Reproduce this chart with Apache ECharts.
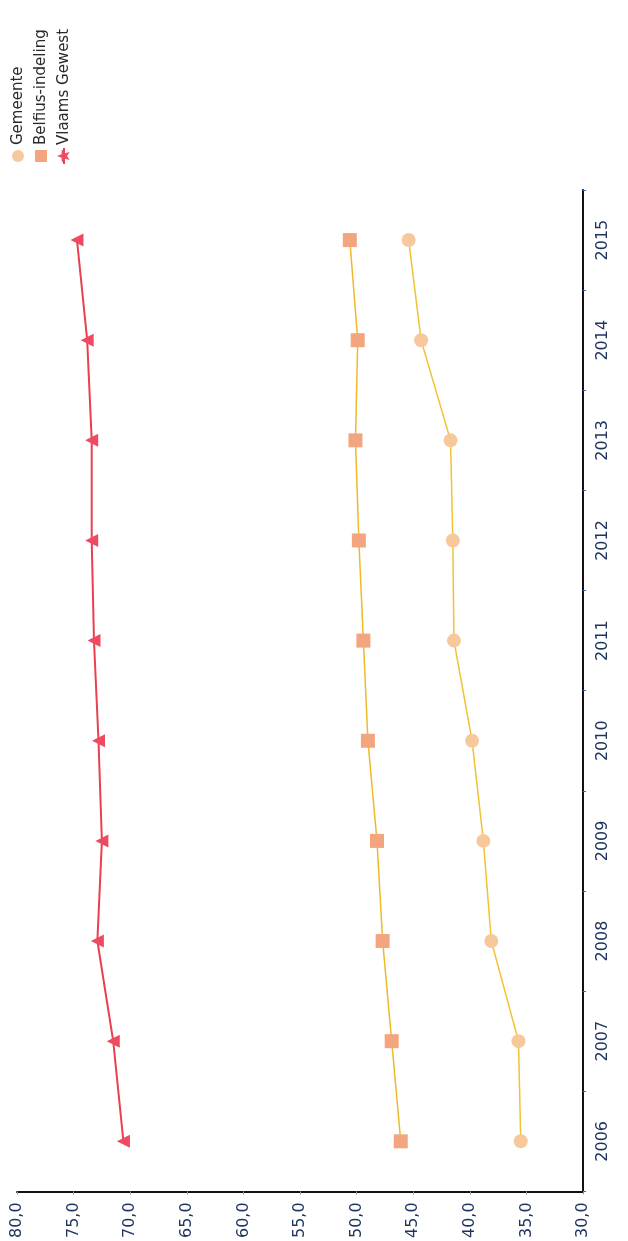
<!DOCTYPE html>
<html>
<head>
<meta charset="utf-8">
<title>Gemeente - Belfius-indeling - Vlaams Gewest</title>
<script src="https://cdn.jsdelivr.net/npm/echarts@6/dist/echarts.min.js"></script>
<style>
  html, body { margin: 0; padding: 0; background: #fff; }
  #chart { width: 628px; height: 1241px; }
</style>
</head>
<body>
<div id="chart"></div>
<script>
// categorieen (jaren), van onder naar boven
var years = ['2006', '2007', '2008', '2009', '2010', '2011', '2012', '2013', '2014', '2015']
// waarden per reeks
var gemeente = [35.5, 35.7, 38.1, 38.8, 39.8, 41.4, 41.5, 41.7, 44.3, 45.4]
var belfius = [46.1, 46.9, 47.7, 48.2, 49.0, 49.4, 49.8, 50.1, 49.9, 50.6]
var vlaams = [70.6, 71.5, 72.9, 72.5, 72.8, 73.2, 73.4, 73.4, 73.8, 74.7]
var seriesNames = ['Gemeente', 'Belfius-indeling', 'Vlaams Gewest']
// as-instellingen
var axisMin = 30
var axisMax = 80
var axisStep = 5

var labelColor = '#1f3560'
var fontFamily = '"DejaVu Sans", Verdana, sans-serif'

// punten koppelen aan de categorieen
function toPairs(vals) {
    return vals.map(function (v, i) { return [v, years[i]] })
}

// legende-icoon ster (pictogram, geen data)
function starPoints(cx, cy, r1, r2) {
    var pts = []
    for (var i = 0; i < 10; i++) {
        var r = i % 2 === 0 ? r1 : r2
        var a = -Math.PI / 2 + i * Math.PI / 5
        pts.push([cx + r * Math.cos(a), cy + r * Math.sin(a)])
    }
    return pts
}

var dom = echarts.init(document.getElementById('chart'))

// legende: gedraaid zoals het gescande origineel
var legendItems = []
var rowGap = 23
seriesNames.forEach(function (name, i) {
    var ly = i * rowGap + 8
    if (i === 0) {
        legendItems.push({ type: 'circle', shape: { cx: 6, cy: ly, r: 6 }, style: { fill: '#f7c89c' } })
    } else if (i === 1) {
        legendItems.push({ type: 'rect', shape: { x: 0, y: ly - 6, width: 12, height: 12 }, style: { fill: '#f3a57f' } })
    } else {
        legendItems.push({ type: 'line', shape: { x1: -2, y1: ly, x2: 14, y2: ly }, style: { stroke: '#e8404f', lineWidth: 2 } })
        legendItems.push({ type: 'polygon', shape: { points: starPoints(6, ly, 7, 3) }, style: { fill: '#ee4a62' } })
    }
    legendItems.push({
        type: 'text',
        style: {
            text: name, x: 17, y: ly,
            fill: '#2a2a2a', font: '15px ' + fontFamily,
            align: 'left', verticalAlign: 'middle'
        }
    })
})

var option = {
    backgroundColor: '#fff',
    animation: false,
    grid: {
        left: 17,
        right: 45,
        top: 190,
        bottom: 49,
        containLabel: false
    },
    xAxis: {
        type: 'value',
        inverse: true,
        position: 'bottom',
        min: axisMin,
        max: axisMax,
        interval: axisStep,
        axisLine: { show: true, lineStyle: { color: '#111', width: 2 } },
        axisTick: { show: true, length: 3, lineStyle: { color: '#999' } },
        splitLine: { show: false },
        axisLabel: {
            rotate: 90,
            margin: 11,
            color: labelColor,
            fontSize: 16,
            fontFamily: fontFamily,
            formatter: function (v) { return v.toFixed(1).replace('.', ',') }
        }
    },
    yAxis: {
        type: 'category',
        position: 'right',
        data: years,
        boundaryGap: true,
        axisLine: { show: true, lineStyle: { color: '#111', width: 2 } },
        axisTick: { show: true, length: 3, lineStyle: { color: '#2b6fd1' } },
        axisLabel: {
            rotate: 90,
            margin: 12,
            color: labelColor,
            fontSize: 16,
            fontFamily: fontFamily
        }
    },
    series: [
        {
            name: seriesNames[0],
            type: 'line',
            data: toPairs(gemeente),
            symbol: 'circle',
            symbolSize: 14,
            lineStyle: { color: '#f2c233', width: 1.5 },
            itemStyle: { color: '#f7c89c' },
            z: 3
        },
        {
            name: seriesNames[1],
            type: 'line',
            data: toPairs(belfius),
            symbol: 'rect',
            symbolSize: 14,
            lineStyle: { color: '#f0b929', width: 1.5 },
            itemStyle: { color: '#f3a57f' },
            z: 3
        },
        {
            name: seriesNames[2],
            type: 'line',
            data: toPairs(vlaams),
            symbol: 'triangle',
            symbolSize: 13,
            symbolRotate: 90,
            lineStyle: { color: '#e8404f', width: 2 },
            itemStyle: { color: '#ee4a62' },
            z: 3
        }
    ],
    graphic: [{
        type: 'group',
        x: 10,
        y: 162,
        rotation: Math.PI / 2,
        children: legendItems
    }]
}

dom.setOption(option)
</script>
</body>
</html>
